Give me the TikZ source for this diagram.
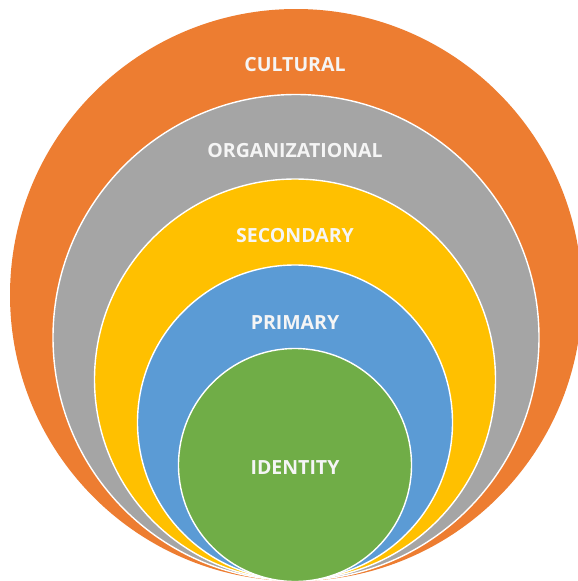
\documentclass[tikz,border=0pt]{standalone}
\usepackage{fontspec}
\setmainfont{Open Sans}
\definecolor{cOrange}{HTML}{ED7D31}
\definecolor{cGray}{HTML}{A5A5A5}
\definecolor{cYellow}{HTML}{FFC000}
\definecolor{cBlue}{HTML}{5B9BD5}
\definecolor{cGreen}{HTML}{70AD47}
\definecolor{cText}{HTML}{F5F5F5}
\tikzset{
  ring/.style={draw=white, line width=1.4pt},
  lbl/.style={text=cText, font=\fontsize{19.5}{23}\selectfont\bfseries, inner sep=0pt}
}
\begin{document}
\begin{tikzpicture}[x=1pt,y=-1pt]
\useasboundingbox (0,0) rectangle (578,581);
\fill[white] (0,0) rectangle (578,581);
\begin{scope}
\clip (0,0) rectangle (578,581);
\fill[cOrange] (296,295) circle (286);
\fill[cGray, ring] (296,337.5) circle (243);
\fill[cYellow, ring] (295,379.5) circle (200.5);
\fill[cBlue, ring] (295,422.5) circle (157.5);
\fill[cGreen, ring] (295,465) circle (116.5);
\end{scope}
\node[lbl] (cultural) at (295,65) {CULTURAL};
\node[lbl] (organizational) at (295,151) {ORGANIZATIONAL};
\node[lbl] (secondary) at (295,235.5) {SECONDARY};
\node[lbl] (primary) at (295,323) {PRIMARY};
\node[lbl] (identity) at (295,468) {IDENTITY};
\end{tikzpicture}
\end{document}
